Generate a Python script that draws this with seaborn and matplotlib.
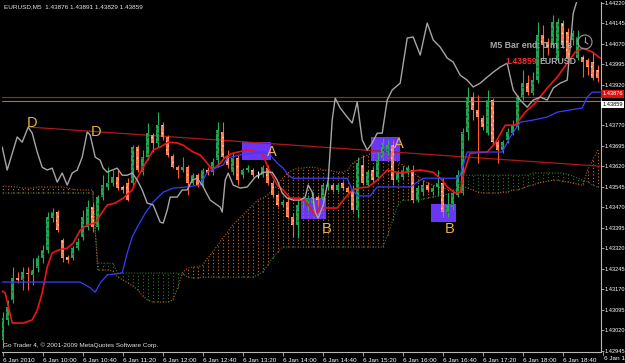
import numpy as np
import matplotlib
matplotlib.use("Agg")
import matplotlib.pyplot as plt
import matplotlib.transforms as mtransforms
from matplotlib.patches import Rectangle, Circle
from matplotlib.lines import Line2D
import seaborn as sns
import logging
logging.getLogger("matplotlib.font_manager").setLevel(logging.ERROR)

# ---------------- data (EURUSD M5, 6 Jan 2010) ----------------
opens = [1.42985, 1.43058, 1.43131, 1.43212, 1.43205, 1.43230, 1.43223, 1.43248, 1.43285, 1.43314,
         1.43431, 1.43453, 1.43351, 1.43288, 1.43285, 1.43321, 1.43362, 1.43398, 1.43471, 1.43398,
         1.43508, 1.43545, 1.43559, 1.43581, 1.43545, 1.43559, 1.43559, 1.43691, 1.43599, 1.43654,
         1.43735, 1.43706, 1.43771, 1.43728, 1.43658, 1.43617, 1.43607, 1.43617, 1.43559, 1.43588,
         1.43552, 1.43607, 1.43599, 1.43643, 1.43746, 1.43658, 1.43599, 1.43651, 1.43588, 1.43607,
         1.43607, 1.43588, 1.43588, 1.43614, 1.43559, 1.43515, 1.43479, 1.43490, 1.43435, 1.43406,
         1.43479, 1.43479, 1.43486, 1.43508, 1.43497, 1.43545, 1.43552, 1.43534, 1.43559, 1.43541,
         1.43534, 1.43460, 1.43625, 1.43552, 1.43607, 1.43581, 1.43651, 1.43673, 1.43698, 1.43570,
         1.43581, 1.43596, 1.43607, 1.43497, 1.43526, 1.43552, 1.43526, 1.43545, 1.43559, 1.43449,
         1.43471, 1.43515, 1.43523, 1.43746, 1.43874, 1.43826, 1.43797, 1.43742, 1.43863, 1.43709,
         1.43680, 1.43717, 1.43742, 1.43764, 1.43874, 1.43925, 1.43889, 1.43936, 1.44101, 1.44075,
         1.44064, 1.44009, 1.44145, 1.44112, 1.44083, 1.44017, 1.44020, 1.44009, 1.44002, 1.43973]
closes = [1.43065, 1.43105, 1.43212, 1.43205, 1.43234, 1.43226, 1.43241, 1.43285, 1.43314, 1.43435,
          1.43453, 1.43387, 1.43285, 1.43277, 1.43321, 1.43343, 1.43435, 1.43471, 1.43398, 1.43508,
          1.43552, 1.43559, 1.43581, 1.43541, 1.43534, 1.43497, 1.43691, 1.43607, 1.43654, 1.43742,
          1.43706, 1.43771, 1.43728, 1.43662, 1.43617, 1.43607, 1.43617, 1.43559, 1.43588, 1.43552,
          1.43607, 1.43596, 1.43636, 1.43753, 1.43654, 1.43625, 1.43651, 1.43570, 1.43607, 1.43614,
          1.43588, 1.43588, 1.43617, 1.43559, 1.43515, 1.43479, 1.43490, 1.43435, 1.43406, 1.43479,
          1.43486, 1.43504, 1.43508, 1.43497, 1.43552, 1.43552, 1.43534, 1.43552, 1.43541, 1.43526,
          1.43460, 1.43632, 1.43559, 1.43599, 1.43570, 1.43643, 1.43706, 1.43698, 1.43570, 1.43599,
          1.43607, 1.43614, 1.43497, 1.43541, 1.43552, 1.43534, 1.43541, 1.43559, 1.43453, 1.43479,
          1.43523, 1.43588, 1.43746, 1.43874, 1.43826, 1.43801, 1.43764, 1.43863, 1.43709, 1.43680,
          1.43709, 1.43746, 1.43771, 1.43874, 1.43925, 1.43892, 1.43936, 1.44101, 1.44064, 1.44053,
          1.44148, 1.44148, 1.44064, 1.44017, 1.44108, 1.44094, 1.44002, 1.43984, 1.43944, 1.43944]
highs = [1.43087, 1.43131, 1.43252, 1.43234, 1.43252, 1.43252, 1.43285, 1.43296, 1.43332, 1.43453,
         1.43468, 1.43460, 1.43358, 1.43296, 1.43329, 1.43358, 1.43460, 1.43497, 1.43486, 1.43515,
         1.43588, 1.43617, 1.43607, 1.43607, 1.43552, 1.43577, 1.43698, 1.43698, 1.43680, 1.43779,
         1.43742, 1.43819, 1.43782, 1.43735, 1.43665, 1.43625, 1.43654, 1.43625, 1.43596, 1.43596,
         1.43614, 1.43617, 1.43651, 1.43782, 1.43782, 1.43680, 1.43669, 1.43662, 1.43614, 1.43625,
         1.43614, 1.43603, 1.43625, 1.43625, 1.43570, 1.43523, 1.43497, 1.43515, 1.43449, 1.43497,
         1.43497, 1.43515, 1.43526, 1.43515, 1.43559, 1.43563, 1.43559, 1.43559, 1.43566, 1.43548,
         1.43552, 1.43654, 1.43662, 1.43607, 1.43617, 1.43673, 1.43724, 1.43717, 1.43717, 1.43607,
         1.43621, 1.43625, 1.43625, 1.43552, 1.43570, 1.43563, 1.43552, 1.43607, 1.43577, 1.43523,
         1.43534, 1.43607, 1.43760, 1.43911, 1.43892, 1.43881, 1.43808, 1.43900, 1.43870, 1.43717,
         1.43717, 1.43760, 1.43790, 1.43881, 1.43973, 1.43954, 1.43965, 1.44148, 1.44138, 1.44090,
         1.44174, 1.44163, 1.44156, 1.44127, 1.44119, 1.44119, 1.44028, 1.44017, 1.44039, 1.43991]
lows = [1.42955, 1.43039, 1.43120, 1.43194, 1.43168, 1.43168, 1.43187, 1.43234, 1.43266, 1.43303,
        1.43416, 1.43380, 1.43270, 1.43266, 1.43277, 1.43314, 1.43351, 1.43387, 1.43380, 1.43387,
        1.43497, 1.43534, 1.43548, 1.43534, 1.43523, 1.43493, 1.43545, 1.43599, 1.43588, 1.43643,
        1.43673, 1.43691, 1.43717, 1.43654, 1.43614, 1.43577, 1.43599, 1.43515, 1.43552, 1.43545,
        1.43545, 1.43588, 1.43588, 1.43617, 1.43651, 1.43614, 1.43588, 1.43552, 1.43577, 1.43599,
        1.43581, 1.43577, 1.43581, 1.43552, 1.43508, 1.43471, 1.43471, 1.43431, 1.43362, 1.43358,
        1.43468, 1.43460, 1.43479, 1.43479, 1.43486, 1.43534, 1.43526, 1.43526, 1.43534, 1.43519,
        1.43453, 1.43431, 1.43552, 1.43545, 1.43563, 1.43574, 1.43643, 1.43662, 1.43552, 1.43563,
        1.43574, 1.43588, 1.43486, 1.43490, 1.43515, 1.43526, 1.43515, 1.43515, 1.43435, 1.43435,
        1.43460, 1.43508, 1.43515, 1.43717, 1.43790, 1.43632, 1.43753, 1.43735, 1.43698, 1.43632,
        1.43669, 1.43706, 1.43735, 1.43753, 1.43863, 1.43881, 1.43881, 1.43925, 1.44009, 1.44028,
        1.44053, 1.44002, 1.44053, 1.44009, 1.44064, 1.44009, 1.43947, 1.43954, 1.43936, 1.43929]

# Ichimoku cloud spans (one value per bar)
span_a = [1.43548, 1.43548, 1.43545, 1.43545, 1.43541, 1.43541, 1.43541, 1.43545, 1.43545,
          1.43545, 1.43545, 1.43545, 1.43545, 1.43541, 1.43537, 1.43534, 1.43534, 1.43534, 1.43534,
          1.43241, 1.43241, 1.43241, 1.43237,
          1.43215, 1.43205, 1.43194, 1.43183, 1.43168, 1.43146, 1.43131, 1.43124, 1.43124, 1.43124, 1.43124, 1.43131,
          1.43176, 1.43234, 1.43248, 1.43252, 1.43252,
          1.43259, 1.43285, 1.43307, 1.43332, 1.43358, 1.43380, 1.43406,
          1.43424, 1.43442, 1.43460, 1.43479, 1.43497, 1.43504, 1.43515, 1.43534, 1.43552,
          1.43577, 1.43596, 1.43607, 1.43614, 1.43614, 1.43617, 1.43617, 1.43614, 1.43607, 1.43607, 1.43603,
          1.43599, 1.43599, 1.43607, 1.43632, 1.43643, 1.43654, 1.43662, 1.43669, 1.43669, 1.43669,
          1.43662, 1.43651, 1.43636,
          1.43625, 1.43614, 1.43599, 1.43585, 1.43570, 1.43559, 1.43552, 1.43545, 1.43541, 1.43537, 1.43534, 1.43534,
          1.43548, 1.43541, 1.43534, 1.43526, 1.43523, 1.43523, 1.43523, 1.43523, 1.43526, 1.43526, 1.43534, 1.43534,
          1.43541, 1.43548, 1.43552, 1.43559, 1.43563, 1.43566, 1.43570, 1.43570, 1.43566, 1.43563, 1.43559, 1.43555,
          1.43552,
          1.43607, 1.43643, 1.43680]
span_b = [1.43523, 1.43523, 1.43523, 1.43523, 1.43523, 1.43523, 1.43523, 1.43523, 1.43523, 1.43523,
          1.43523, 1.43523, 1.43523, 1.43523, 1.43523, 1.43523, 1.43523, 1.43523, 1.43523,
          1.43266, 1.43266, 1.43266, 1.43266,
          1.43230, 1.43230, 1.43230, 1.43230, 1.43230, 1.43230, 1.43230, 1.43230, 1.43230, 1.43230, 1.43230, 1.43230,
          1.43230, 1.43226, 1.43215, 1.43212, 1.43212,
          1.43215, 1.43215, 1.43215, 1.43215, 1.43215, 1.43215, 1.43215, 1.43215, 1.43215, 1.43215, 1.43215,
          1.43223, 1.43234, 1.43259, 1.43285, 1.43307,
          1.43325, 1.43325, 1.43325, 1.43325, 1.43325, 1.43325, 1.43325, 1.43325, 1.43325, 1.43325, 1.43325,
          1.43325, 1.43325, 1.43325, 1.43325, 1.43325, 1.43325, 1.43325, 1.43325, 1.43325, 1.43325,
          1.43369, 1.43424, 1.43479,
          1.43497, 1.43497, 1.43497, 1.43497, 1.43501, 1.43504, 1.43508, 1.43512, 1.43515, 1.43519, 1.43523, 1.43526,
          1.43588, 1.43588, 1.43588, 1.43588, 1.43588, 1.43588, 1.43588, 1.43588, 1.43588, 1.43588, 1.43588, 1.43588,
          1.43588, 1.43588,
          1.43596, 1.43596, 1.43596, 1.43596, 1.43596, 1.43596, 1.43596,
          1.43592, 1.43585, 1.43577, 1.43570,
          1.43563, 1.43552, 1.43545]

# Tenkan-sen (red) vertices: bar position, price
tenkan_x = [-0.5, 0.5, 1.9, 4.1, 5.9, 6.9, 7.9, 8.9, 9.9, 11.1, 12.9, 14.1, 15.5, 16.9, 18.5, 19.5, 20.9,
            22.5, 24.1, 25.9, 26.9, 28.1, 30.1, 31.5, 33.1, 34.9, 36.1, 36.9, 38.1, 39.5, 40.9, 41.9,
            43.5, 44.5, 46.1, 48.9, 51.1, 52.1, 53.1, 54.9, 56.1, 57.5, 59.5, 60.9, 62.5, 63.5, 64.9,
            66.9, 68.1, 69.9, 71.1, 73.1, 74.9, 76.9, 79.5, 83.5, 86.1, 87.9, 88.9, 90.5, 91.5, 92.1,
            93.5, 96.9, 98.5, 100.5, 102.5, 104.5, 106.5, 108.9, 110.9, 112.9, 114.5, 116.1, 117.9, 119.5]
tenkan_y = [1.43168, 1.43157, 1.43047, 1.43047, 1.43058, 1.43094, 1.43157, 1.43252, 1.43303, 1.43314,
            1.43321, 1.43340, 1.43387, 1.43406, 1.43413, 1.43442, 1.43479, 1.43486, 1.43504, 1.43534,
            1.43577, 1.43617, 1.43680, 1.43691, 1.43709, 1.43706, 1.43698, 1.43687, 1.43673, 1.43662,
            1.43632, 1.43607, 1.43632, 1.43654, 1.43669, 1.43680, 1.43673, 1.43662, 1.43614, 1.43552,
            1.43534, 1.43504, 1.43504, 1.43486, 1.43442, 1.43471, 1.43468, 1.43468, 1.43497, 1.43534,
            1.43541, 1.43545, 1.43570, 1.43607, 1.43596, 1.43607, 1.43599, 1.43570, 1.43545, 1.43523,
            1.43526, 1.43588, 1.43669, 1.43673, 1.43706, 1.43771, 1.43771, 1.43819, 1.43852, 1.43907,
            1.43947, 1.43998, 1.44039, 1.44053, 1.44039, 1.44017]

# Kijun-sen (blue) vertices
kijun_x = [-0.5, 15.5, 17.5, 18.5, 19.5, 20.9, 23.9, 24.9, 25.9, 26.9, 28.5, 30.1, 32.1, 34.1, 36.9,
           39.5, 40.9, 42.9, 44.1, 44.9, 47.5, 52.1, 53.5, 54.9, 56.1, 57.1, 58.1, 68.9, 69.9, 71.1,
           73.5, 74.9, 81.5, 84.1, 90.9, 91.5, 92.9, 99.9, 101.5, 103.5, 106.1, 108.9, 110.9, 115.9,
           116.9, 117.9, 119.5]
kijun_y = [1.43197, 1.43197, 1.43176, 1.43160, 1.43194, 1.43223, 1.43230, 1.43303, 1.43362, 1.43398,
           1.43449, 1.43490, 1.43526, 1.43541, 1.43545, 1.43552, 1.43599, 1.43617, 1.43625, 1.43651,
           1.43662, 1.43673, 1.43662, 1.43632, 1.43614, 1.43588, 1.43577, 1.43577, 1.43534, 1.43512,
           1.43512, 1.43545, 1.43545, 1.43577, 1.43577, 1.43588, 1.43673, 1.43673, 1.43728, 1.43782,
           1.43790, 1.43801, 1.43819, 1.43834, 1.43874, 1.43892, 1.43892]

# Chikou-style grey line vertices
chikou_x = [-0.1, 0.9, 2.9, 3.9, 5.1, 5.9, 6.9, 7.9, 8.9, 9.9, 10.9, 11.9, 12.9, 13.9, 14.9, 15.9,
            16.9, 17.5, 18.5, 19.5, 20.1, 20.9, 21.9, 22.9, 23.9, 24.9, 25.9, 26.9, 27.9, 28.9, 30.1,
            31.5, 32.1, 32.9, 33.5, 34.9, 35.9, 36.9, 37.9, 38.9, 39.9, 41.5, 43.5, 43.9, 44.5, 45.1,
            46.1, 47.5, 48.9, 50.5, 52.1, 53.9, 54.9, 55.9, 56.9, 58.1, 59.5, 60.5, 61.1, 61.9, 62.5,
            63.1, 64.1, 65.1, 65.9, 66.5, 67.5, 68.9, 69.9, 70.9, 71.9, 72.9, 73.9, 74.9, 75.9, 76.9,
            77.9, 79.5, 80.9, 82.1, 83.5, 84.9, 86.1, 87.5, 88.9, 90.1, 91.5, 92.9, 94.1, 95.5, 96.9,
            98.1, 99.5, 100.9, 102.1, 103.5, 104.9, 106.1, 107.5, 108.9, 110.1, 111.5, 112.9, 114.1,
            114.9]
chikou_y = [1.43691, 1.43607, 1.43728, 1.43709, 1.43764, 1.43742, 1.43673, 1.43617, 1.43607, 1.43614,
            1.43563, 1.43596, 1.43552, 1.43596, 1.43607, 1.43654, 1.43746, 1.43735, 1.43654, 1.43643,
            1.43614, 1.43599, 1.43607, 1.43614, 1.43588, 1.43588, 1.43596, 1.43570, 1.43534, 1.43486,
            1.43479, 1.43416, 1.43413, 1.43460, 1.43508, 1.43508, 1.43534, 1.43534, 1.43570, 1.43577,
            1.43552, 1.43497, 1.43471, 1.43453, 1.43570, 1.43596, 1.43552, 1.43541, 1.43545, 1.43581,
            1.43599, 1.43599, 1.43570, 1.43523, 1.43504, 1.43497, 1.43497, 1.43508, 1.43552, 1.43526,
            1.43453, 1.43431, 1.43479, 1.43570, 1.43790, 1.43870, 1.43834, 1.43801, 1.43779, 1.43856,
            1.43717, 1.43680, 1.43706, 1.43742, 1.43742, 1.43863, 1.43900, 1.43925, 1.44090, 1.44094,
            1.44028, 1.44145, 1.44083, 1.44057, 1.44017, 1.44002, 1.43954, 1.43936, 1.43911, 1.43925,
            1.43947, 1.43965, 1.43984, 1.43998, 1.43900, 1.43863, 1.43837, 1.43863, 1.43874, 1.43863,
            1.43907, 1.43925, 1.43936, 1.44181, 1.44229]

# trend line (D-D) end points
trend_x = [5.5, 119.5]
trend_y = [1.43764, 1.43621]

# A/B zones
zone_left = [47.8, 59.7, 73.7, 85.7]
zone_right = [53.6, 64.7, 79.5, 90.6]
zone_low = [1.43643, 1.43427, 1.43640, 1.43416]
zone_high = [1.43709, 1.43504, 1.43728, 1.43482]

label_text = ["D", "D", "A", "A", "B", "B"]
label_x = [5.9, 18.7, 53.9, 79.3, 64.7, 89.3]
label_y = [1.43779, 1.43746, 1.43673, 1.43702, 1.43391, 1.43391]

red_level = 1.43876
grey_level = 1.43859
header_ohlc = [1.43876, 1.43891, 1.43829, 1.43859]

price_ticks = [1.44220, 1.44145, 1.44070, 1.43995, 1.43920, 1.43770, 1.43695, 1.43620,
               1.43545, 1.43470, 1.43395, 1.43320, 1.43245, 1.43170, 1.43095, 1.43020, 1.42945]
time_tick_bars = [0, 8, 16, 24, 32, 40, 48, 56, 64, 72, 80, 88, 96, 104, 112]
time_tick_labels = ["6 Jan 2010", "6 Jan 10:00", "6 Jan 10:40", "6 Jan 11:20", "6 Jan 12:00",
                    "6 Jan 12:40", "6 Jan 13:20", "6 Jan 14:00", "6 Jan 14:40", "6 Jan 15:20",
                    "6 Jan 16:00", "6 Jan 16:40", "6 Jan 17:20", "6 Jan 18:00", "6 Jan 18:40"]
last_tick_bar = 120
last_tick_label = "6 Jan 19:20"

# ---------------- drawing ----------------
sns.set_theme(style="dark", rc={"axes.facecolor": "black", "figure.facecolor": "black"})
plt.rcParams["font.family"] = ["Liberation Sans", "DejaVu Sans"]
plt.rcParams["hatch.linewidth"] = 0.6
NARROW = ["Liberation Sans Narrow", "Liberation Sans", "DejaVu Sans"]

W, H = 625, 363
fig = plt.figure(figsize=(W / 100, H / 100), dpi=100, facecolor="black")
ax = fig.add_axes([2 / W, 11 / H, 599 / W, 350 / H])
ax.set_facecolor("black")

o = np.array(opens); c = np.array(closes); hi = np.array(highs); lo = np.array(lows)
x = np.arange(len(o))
sa = np.array(span_a); sb = np.array(span_b)

# zones (background)
for l, r, zl, zh in zip(zone_left, zone_right, zone_low, zone_high):
    ax.add_patch(Rectangle((l, zl), r - l, zh - zl, facecolor="#6A35F5", edgecolor="none", zorder=1))

# cloud
bull_cloud = sa >= sb
ax.vlines(x[bull_cloud], np.minimum(sa, sb)[bull_cloud], np.maximum(sa, sb)[bull_cloud],
          colors="#D2701E", linestyles=(0, (1, 2)), lw=0.8, zorder=2)
ax.vlines(x[~bull_cloud], np.minimum(sa, sb)[~bull_cloud], np.maximum(sa, sb)[~bull_cloud],
          colors="#2C7A2C", linestyles=(0, (1, 2)), lw=0.8, zorder=2)
ax.plot(x, sa, color="#C45A1A", lw=0.8, ls=(0, (1, 1.5)), zorder=2)
ax.plot(x, sb, color="#2C7A2C", lw=0.8, ls=(0, (1, 1.5)), zorder=2)

# trend line and horizontal levels
ax.plot(trend_x, trend_y, color="#B01818", lw=0.9, zorder=3)
ax.axhline(red_level, color="#C81414", lw=0.8, zorder=3)
ax.axhline(grey_level, color="#7A7A7A", lw=0.8, zorder=3)

# candles
up = c > o
dn = c < o
eq = c == o
ax.vlines(x[up], lo[up], hi[up], colors="#22B35A", lw=0.8, zorder=4)
ax.vlines(x[dn], lo[dn], hi[dn], colors="#FF5A2A", lw=0.8, zorder=4)
ax.vlines(x[eq], lo[eq], hi[eq], colors="white", lw=0.8, zorder=4)
ax.bar(x[up], (c - o)[up], bottom=o[up], width=0.62, color="#22A552", edgecolor="#0E5E2A",
       linewidth=0.0, hatch="....", zorder=5)
ax.bar(x[dn], (o - c)[dn], bottom=c[dn], width=0.62, color="#FF7A4A", edgecolor="#FFD0B8",
       linewidth=0.0, hatch="....", zorder=5)
ax.hlines(c[eq], x[eq] - 0.35, x[eq] + 0.35, colors="white", lw=0.8, zorder=5)

# indicator lines
sns.lineplot(x=tenkan_x, y=tenkan_y, sort=False, estimator=None, color="#F01414", lw=1.2, ax=ax, zorder=6)
sns.lineplot(x=kijun_x, y=kijun_y, sort=False, estimator=None, color="#3C3CFF", lw=0.9, ax=ax, zorder=6)
sns.lineplot(x=chikou_x, y=chikou_y, sort=False, estimator=None, color="#A6A6A6", lw=1.0, ax=ax, zorder=6)

# letters
for t, lx, ly in zip(label_text, label_x, label_y):
    ax.text(lx, ly, t, color="#E8B44A", fontsize=10.5, ha="center", va="center", zorder=7)

ax.set_xlim(-0.14, 119.66)
ax.set_ylim(1.42941, 1.44222)
ax.grid(False)

for s in ("left", "top"):
    ax.spines[s].set_visible(False)
for s in ("right", "bottom"):
    ax.spines[s].set_color("#B8B8B8")
    ax.spines[s].set_linewidth(0.8)

ax.yaxis.tick_right()
ax.set_yticks(price_ticks)
ax.set_yticklabels([f"{p:.5f}" for p in price_ticks], fontfamily=NARROW)
ax.tick_params(axis="y", which="both", right=True, left=False, length=2.2, width=0.6,
               color="#B8B8B8", labelcolor="white", labelsize=4.1, pad=0.6)
ax.set_xticks(time_tick_bars)
ax.set_xticklabels(time_tick_labels, ha="left")
ax.tick_params(axis="x", which="both", bottom=True, length=3, width=0.6,
               color="#B8B8B8", labelcolor="white", labelsize=4.6, pad=1.2)
ax.set_xlabel(""); ax.set_ylabel("")
trans_x = mtransforms.blended_transform_factory(ax.transData, ax.transAxes)
ax.plot([last_tick_bar, last_tick_bar], [0, -0.008], color="#B8B8B8", lw=0.6,
        transform=trans_x, clip_on=False)
ax.text(last_tick_bar + 0.2, -0.012, last_tick_label, transform=trans_x, ha="left", va="top",
        color="white", fontsize=4.6, clip_on=False)

# price boxes on the axis
trans_y = mtransforms.blended_transform_factory(ax.transAxes, ax.transData)
ax.annotate(f"{red_level:.5f}", xy=(1.0, red_level), xycoords=trans_y, xytext=(1.2, 2),
            textcoords="offset points", ha="left", va="center", fontsize=4.1, color="white",
            fontfamily=NARROW,
            bbox=dict(boxstyle="square,pad=0.22", facecolor="#E01010", edgecolor="none"),
            annotation_clip=False, zorder=10)
ax.annotate(f"{grey_level:.5f}", xy=(1.0, grey_level), xycoords=trans_y, xytext=(1.2, -2.5),
            textcoords="offset points", ha="left", va="center", fontsize=4.1, color="black",
            fontfamily=NARROW,
            bbox=dict(boxstyle="square,pad=0.22", facecolor="white", edgecolor="none"),
            annotation_clip=False, zorder=10)

# header / footer / info texts
fig.text(4 / W, 1 - 7 / H, "EURUSD,M5  " + " ".join(f"{v:.5f}" for v in header_ohlc),
         color="#E6E6E6", fontsize=4.6, ha="left", va="center")
fig.text(3 / W, 1 - 345 / H, "Go Trader 4, \u00a9 2001-2009 MetaQuotes Software Corp.",
         color="#E6E6E6", fontsize=4.6, ha="left", va="center")
fig.text(531 / W, 1 - 46 / H, "M5 Bar end: 0 m 1 s", color="#A8A8A8", fontsize=6.3,
         fontweight="bold", ha="center", va="center")
fig.text(521 / W, 1 - 62 / H, f"{header_ohlc[3]:.5f}", color="#FF2A2A", fontsize=6.3,
         fontweight="bold", ha="center", va="center")
fig.text(558 / W, 1 - 62 / H, "EURUSD", color="#A8A8A8", fontsize=6.3,
         fontweight="bold", ha="center", va="center")

# clock icon
ident = mtransforms.IdentityTransform()
fig.add_artist(Circle((585, H - 42), 7, transform=ident, facecolor="none", edgecolor="#9A9A9A", lw=0.8))
fig.add_artist(Line2D([585, 585], [H - 42, H - 37], transform=ident, color="#9A9A9A", lw=0.8))
fig.add_artist(Line2D([585, 588], [H - 42, H - 44], transform=ident, color="#9A9A9A", lw=0.8))

fig.savefig("out.png", dpi=100, facecolor="black")
